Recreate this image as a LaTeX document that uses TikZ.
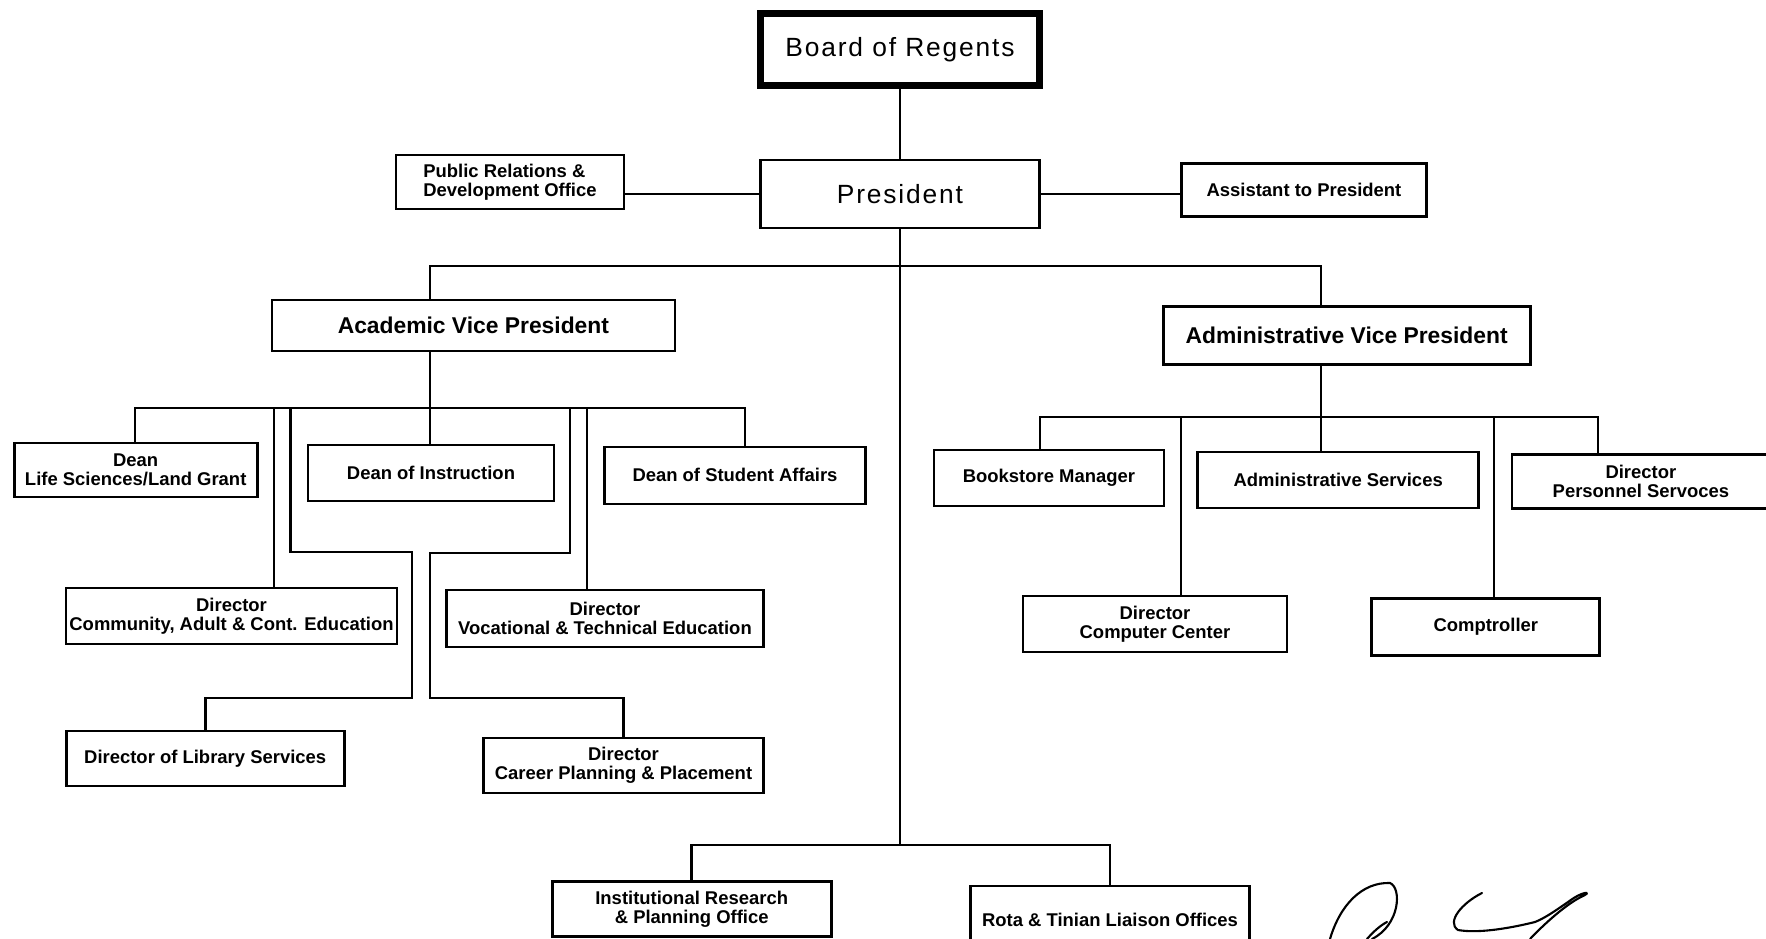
\documentclass[tikz,border=0pt]{standalone}
\usepackage{fontspec}
\setmainfont{Liberation Sans}
\newfontfamily\spacedfont{Liberation Sans}[LetterSpace=7]
\usetikzlibrary{positioning}

\begin{document}
\begin{tikzpicture}[x=0.02cm, y=-0.02cm,
  unit/.style={rectangle, draw, line width=1.5pt, inner sep=0pt, align=center,
               font=\bfseries\fontsize{10.5}{11}\selectfont},
  headbox/.style={unit, font=\spacedfont\fontsize{15}{18}\selectfont},
  regents/.style={headbox, line width=3.8pt},
  vpbox/.style={unit, font=\bfseries\fontsize{13}{15}\selectfont},
  sz/.style 2 args={minimum width=#1*0.02cm, minimum height=#2*0.02cm},
  ln/.style={line width=1.5pt},
  sign/.style={line width=1.2pt, line cap=round}]
  \useasboundingbox (0,0) rectangle (1766,939);

  % top of the chart
  \node[regents, sz={279}{72}] (board) at (900,49.5) {Board of Regents};
  \node[headbox, sz={279}{68}] (pres) at (900,194) {President};
  \node[unit, sz={228}{54}, align=left] (pr) at (510,182) {Public Relations \&\\Development Office};
  \node[unit, sz={245}{53}] (asst) at (1304,190) {Assistant to President};
  \node[vpbox, sz={403}{51}] (avp) at (473.4,325.5) {Academic Vice President};
  \node[vpbox, sz={367}{58}] (advp) at (1346.7,335.8) {Administrative Vice President};

  % academic side
  \node[unit, sz={243}{54}] (dlife) at (135.7,470) {Dean\\Life Sciences/Land Grant};
  \node[unit, sz={246}{56}] (dinst) at (431,473) {Dean of Instruction};
  \node[unit, sz={261}{57}] (dstud) at (735,475.4) {Dean of Student Affairs};
  \node[unit, sz={331}{56}] (comm) at (231.5,616) {Director\\Community, Adult \& Cont. Education};
  \node[unit, sz={317}{57}] (voc) at (605,618.5) {Director\\Vocational \& Technical Education};
  \node[unit, sz={278}{55}] (lib) at (205.2,758.5) {Director of Library Services};
  \node[unit, sz={280}{55}] (career) at (623.5,765.5) {Director\\Career Planning \& Placement};

  % administrative side
  \node[unit, sz={230}{56}] (book) at (1048.9,478) {Bookstore Manager};
  \node[unit, sz={281}{56}] (adms) at (1338.2,480) {Administrative Services};
  \node[unit, sz={258}{54}] (pers) at (1640.9,481.2) {Director\\Personnel Servoces};
  \node[unit, sz={264}{56}] (compc) at (1155,624) {Director\\Computer Center};
  \node[unit, sz={228}{57}] (ctrl) at (1485.8,627) {Comptroller};

  % offices under the president
  \node[unit, sz={279}{55}] (inst) at (691.7,909) {Institutional Research\\\& Planning Office};
  \node[unit, sz={279}{69}] (rota) at (1110,920.4) {Rota \& Tinian Liaison Offices};

  % bus points
  \coordinate (trunk) at (900,845);
  \coordinate (vpL) at (430,266);
  \coordinate (vpR) at (1321,266);
  \coordinate (acL) at (135,408);
  \coordinate (acR) at (745,408);
  \coordinate (commtap) at (274,408);
  \coordinate (libtap) at (290.5,408);
  \coordinate (libbend) at (412,552);
  \coordinate (libknee) at (412,698);
  \coordinate (cartap) at (570,408);
  \coordinate (carbend) at (430,553);
  \coordinate (carknee) at (430,698);
  \coordinate (voctap) at (587,408);
  \coordinate (adL) at (1040,417);
  \coordinate (adR) at (1598,417);
  \coordinate (comptap) at (1181,417);
  \coordinate (ctrltap) at (1494,417);

  % lines
  \draw[ln] (board) -- (pres);
  \draw[ln] (pres.west) -- (pres.west -| pr.east);
  \draw[ln] (pres.east) -- (pres.east -| asst.west);
  \draw[ln] (pres.south) -- (trunk);
  \draw[ln] (vpL |- avp.north) -- (vpL) -- (vpR) -- (vpR |- advp.north);

  \draw[ln] (acL |- dlife.north) -- (acL) -- (acR) -- (acR |- dstud.north);
  \draw[ln] (vpL |- avp.south) -- (vpL |- dinst.north);
  \draw[ln] (commtap) -- (commtap |- comm.north);
  \draw[ln] (voctap) -- (voctap |- voc.north);
  \draw[ln] (libtap) |- (libbend) -- (libknee) -| (lib.north);
  \draw[ln] (cartap) |- (carbend) -- (carknee) -| (career.north);

  \draw[ln] (adL |- book.north) -- (adL) -- (adR) -- (adR |- pers.north);
  \draw[ln] (vpR |- advp.south) -- (vpR |- adms.north);
  \draw[ln] (comptap) -- (comptap |- compc.north);
  \draw[ln] (ctrltap) -- (ctrltap |- ctrl.north);

  \draw[ln] (inst.north) |- (trunk) -| (rota.north);

  % signature
  \draw[sign] (1330,939) .. controls (1340,905) and (1362,882) .. (1390,883)
              .. controls (1402,888) and (1400,925) .. (1372,939);
  \draw[sign] (1367,939) .. controls (1374,931) and (1381,925) .. (1387,922);
  \draw[sign] (1482,893) .. controls (1462,903) and (1446,922) .. (1458,930)
              .. controls (1480,934) and (1515,927) .. (1535,922);
  \draw[sign] (1530,939) .. controls (1550,918) and (1570,902) .. (1583,896)
              .. controls (1592,892) and (1584,890) .. (1568,902)
              .. controls (1555,911) and (1545,918) .. (1535,922);
\end{tikzpicture}
\end{document}
